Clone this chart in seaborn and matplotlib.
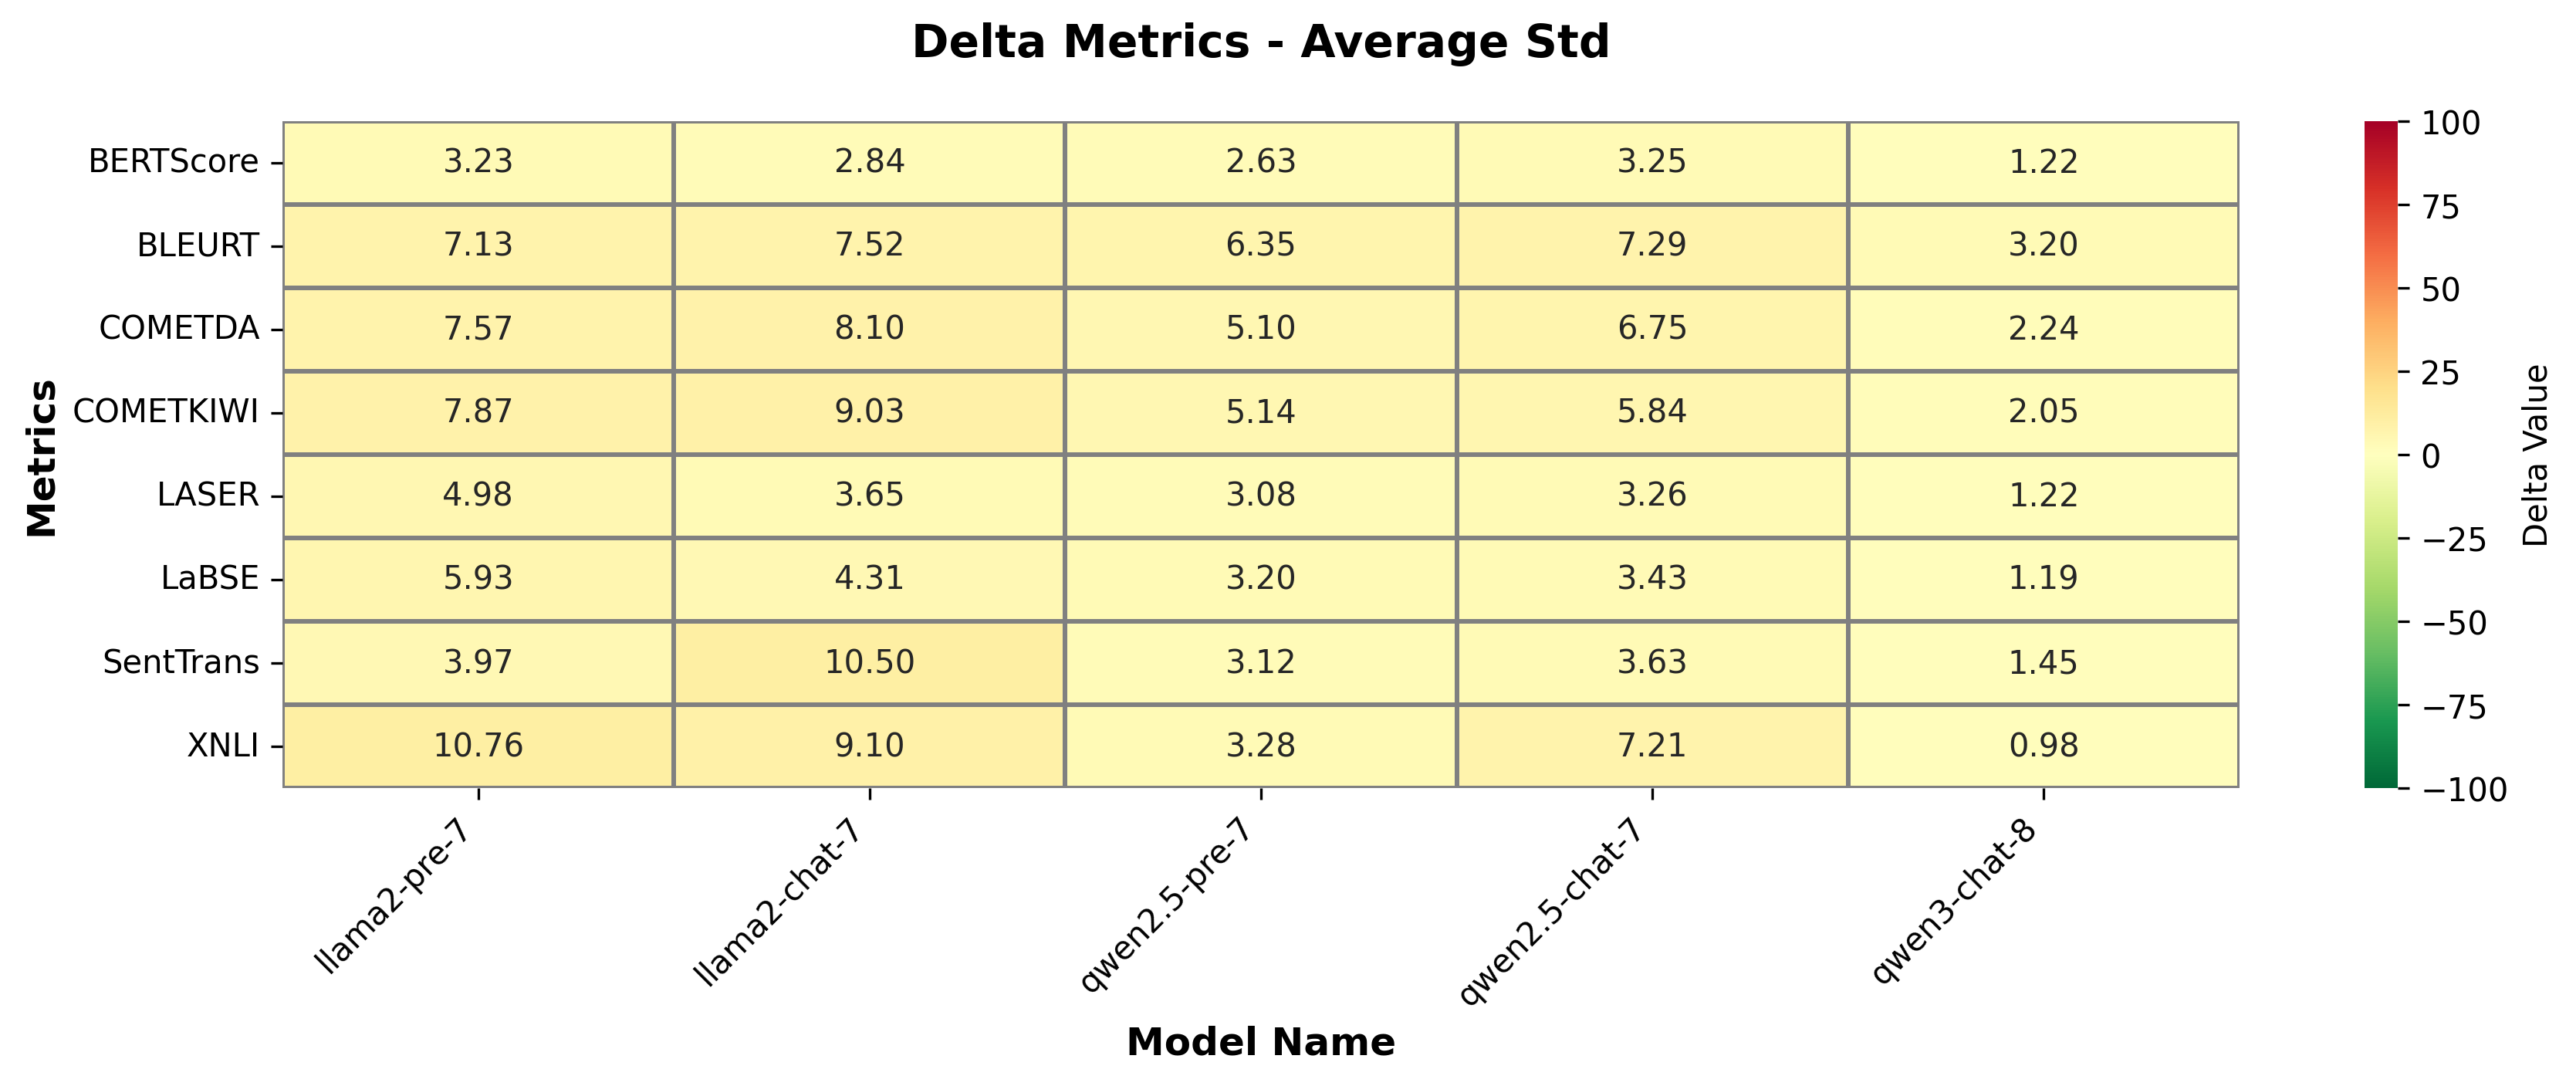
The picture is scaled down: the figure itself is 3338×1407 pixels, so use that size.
import numpy as np
import pandas as pd
import seaborn as sns
import matplotlib.pyplot as plt

metrics = ['BERTScore', 'BLEURT', 'COMETDA', 'COMETKIWI', 'LASER', 'LaBSE', 'SentTrans', 'XNLI']
models = ['llama2-pre-7', 'llama2-chat-7', 'qwen2.5-pre-7', 'qwen2.5-chat-7', 'qwen3-chat-8']

llama2_pre_7 = [3.23, 7.13, 7.57, 7.87, 4.98, 5.93, 3.97, 10.76]
llama2_chat_7 = [2.84, 7.52, 8.10, 9.03, 3.65, 4.31, 10.50, 9.10]
qwen25_pre_7 = [2.63, 6.35, 5.10, 5.14, 3.08, 3.20, 3.12, 3.28]
qwen25_chat_7 = [3.25, 7.29, 6.75, 5.84, 3.26, 3.43, 3.63, 7.21]
qwen3_chat_8 = [1.22, 3.20, 2.24, 2.05, 1.22, 1.19, 1.45, 0.98]

df = pd.DataFrame({
    'llama2-pre-7': llama2_pre_7,
    'llama2-chat-7': llama2_chat_7,
    'qwen2.5-pre-7': qwen25_pre_7,
    'qwen2.5-chat-7': qwen25_chat_7,
    'qwen3-chat-8': qwen3_chat_8,
}, index=metrics)[models]

fig = plt.figure(figsize=(11.127, 4.693), dpi=300)
ax = fig.add_axes([0.1097, 0.274, 0.7596, 0.614])
cax = fig.add_axes([0.918, 0.274, 0.0128, 0.614])

sns.heatmap(df, ax=ax, cbar_ax=cax, cmap='RdYlGn_r', vmin=-100, vmax=100, center=0,
            annot=True, fmt='.2f', annot_kws={'fontsize': 10},
            linewidths=1, linecolor='gray',
            cbar_kws={'label': 'Delta Value'})

ax.set_xticklabels(ax.get_xticklabels(), rotation=45, ha='right', fontsize=10)
ax.set_yticklabels(ax.get_yticklabels(), rotation=0, fontsize=10)
ax.set_xlabel('Model Name', fontsize=12, fontweight='bold')
ax.set_ylabel('Metrics', fontsize=12, fontweight='bold')
ax.set_title('Delta Metrics - Average Std', fontsize=14, fontweight='bold', pad=20)
cax.tick_params(labelsize=10)
cax.yaxis.label.set_size(10)

fig.savefig('out.png', dpi=300)
